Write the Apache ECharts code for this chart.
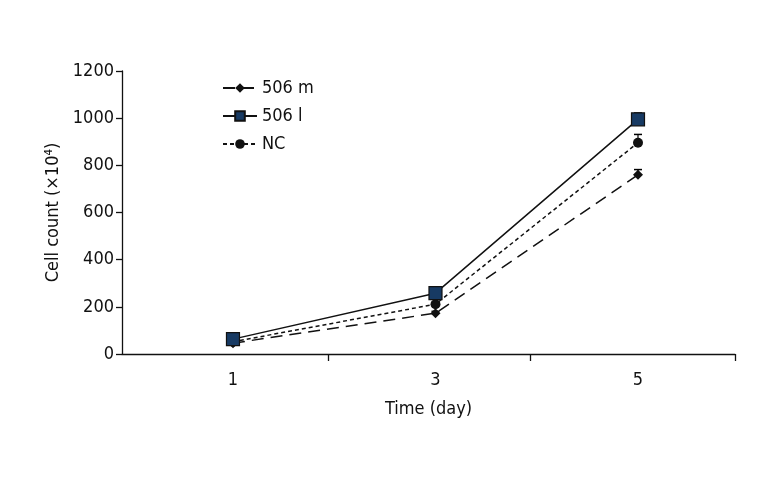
<!DOCTYPE html>
<html><head><meta charset="utf-8">
<script src="https://cdn.jsdelivr.net/npm/echarts@6/dist/echarts.min.js"></script>
<style>html,body{margin:0;padding:0;background:#fff}#c{width:768px;height:480px}</style>
</head><body><div id="c"></div>
<script>
const days = [1, 3, 5];
const seriesNames = ['506 m', '506 l', 'NC'];
const m506 = [46, 173, 760];
const l506 = [63, 258, 995];
const nc = [52, 211, 896];
const m506Err = [4, 8, 22];
const l506Err = [4, 8, 27];
const ncErr = [4, 8, 35];
const yTicks = [0, 200, 400, 600, 800, 1000, 1200];

const FONT = "'DejaVu Sans Condensed','Liberation Sans Narrow',sans-serif";
const chart = echarts.init(document.getElementById('c'));

function pts(vals) { return vals.map((v, i) => [days[i], v]); }

function errSeries(vals, errs) {
  return {
    type: 'custom',
    silent: true,
    z: 1,
    data: vals.map((v, i) => [days[i], v, v + errs[i]]),
    renderItem: function (params, api) {
      const x = api.value(0);
      const p0 = api.coord([x, api.value(1)]);
      const p1 = api.coord([x, api.value(2)]);
      return {
        type: 'group',
        children: [
          { type: 'line', shape: { x1: p0[0], y1: p0[1], x2: p1[0], y2: p1[1] }, style: { stroke: '#000', lineWidth: 1.2 } },
          { type: 'line', shape: { x1: p1[0] - 4, y1: p1[1], x2: p1[0] + 4, y2: p1[1] }, style: { stroke: '#000', lineWidth: 1.5 } }
        ]
      };
    }
  };
}

chart.setOption({
  animation: false,
  textStyle: { fontFamily: FONT },
  grid: { left: 122, right: 33, top: 71, bottom: 126 },
  legend: {
    orient: 'vertical',
    left: 217,
    top: 74,
    itemWidth: 34,
    itemHeight: 12,
    itemGap: 10,
    textStyle: { fontFamily: FONT, fontSize: 18, color: '#111' },
    data: seriesNames
  },
  xAxis: {
    type: 'value',
    min: -0.096,
    max: 5.958,
    name: 'Time (day)',
    nameLocation: 'middle',
    nameGap: 46,
    nameTextStyle: { fontFamily: FONT, fontSize: 18, color: '#111' },
    axisLine: { onZero: false, lineStyle: { color: '#111', width: 1.3 } },
    axisTick: { show: true, length: 7, customValues: [1.94, 3.94, 5.958], lineStyle: { color: '#111', width: 1.3 } },
    axisLabel: { fontFamily: FONT, fontSize: 18, color: '#111', margin: 17, customValues: days },
    splitLine: { show: false }
  },
  yAxis: {
    type: 'value',
    min: yTicks[0],
    max: yTicks[yTicks.length - 1],
    interval: 200,
    name: 'Cell count (\u00d710\u2074)',
    nameLocation: 'middle',
    nameGap: 48,
    nameTextStyle: { fontFamily: FONT, fontSize: 18, color: '#111' },
    axisLine: { show: true, onZero: false, lineStyle: { color: '#111', width: 1.3 } },
    axisTick: { show: true, length: 6, lineStyle: { color: '#111', width: 1.3 } },
    axisLabel: { fontFamily: FONT, fontSize: 18, color: '#111', margin: 8, formatter: v => String(v) },
    splitLine: { show: false }
  },
  series: [
    errSeries(m506, m506Err),
    errSeries(l506, l506Err),
    errSeries(nc, ncErr),
    {
      name: seriesNames[0], type: 'line', data: pts(m506), z: 3,
      symbol: 'diamond', symbolSize: 10,
      lineStyle: { color: '#111', width: 1.5, type: [12, 7] },
      itemStyle: { color: '#111' }
    },
    {
      name: seriesNames[1], type: 'line', data: pts(l506), z: 4,
      symbol: 'rect', symbolSize: 13,
      lineStyle: { color: '#111', width: 1.5, type: 'solid' },
      itemStyle: { color: '#173a63', borderColor: '#111', borderWidth: 1.2 }
    },
    {
      name: seriesNames[2], type: 'line', data: pts(nc), z: 3,
      symbol: 'circle', symbolSize: 10,
      lineStyle: { color: '#111', width: 1.5, type: [4, 3] },
      itemStyle: { color: '#111' }
    }
  ]
});
</script>
</body></html>
